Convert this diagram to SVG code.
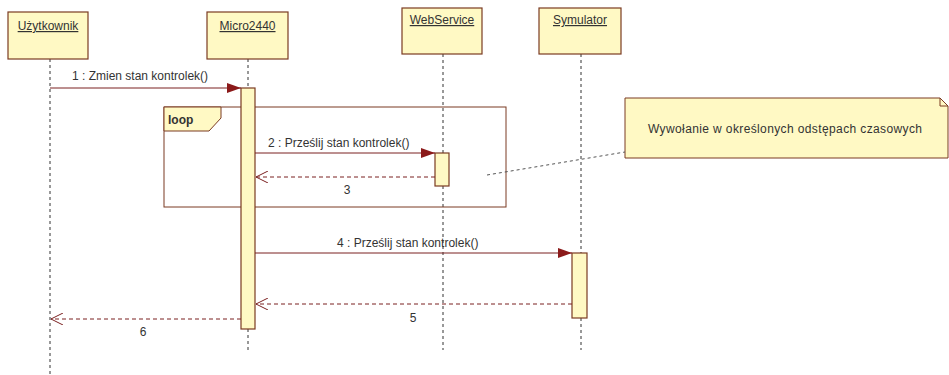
<svg xmlns="http://www.w3.org/2000/svg" width="949" height="375" viewBox="0 0 949 375">
<style>
.box{fill:#fff9c4;stroke:#7b3b22;stroke-width:1.2}
.life{stroke:#333;stroke-width:1;stroke-dasharray:3,3;fill:none}
.msg{stroke:#7b2020;stroke-width:1;fill:none}
.ret{stroke:#7b2020;stroke-width:1;fill:none;stroke-dasharray:4,3}
.t{font-family:"Liberation Sans",Arial,sans-serif;font-size:12px;fill:#333}
.h{font-family:"Liberation Sans",Arial,sans-serif;font-size:12px;fill:#333;text-decoration:underline;text-anchor:middle}
.frame{fill:none;stroke:#7b3b22;stroke-width:1}
</style>
<defs>
<marker id="fill" markerWidth="14" markerHeight="10" refX="14" refY="5" orient="auto" markerUnits="userSpaceOnUse">
<path d="M0,0 L14,5 L0,10 Z" fill="#8b1a1a"/>
</marker>
<marker id="open" markerWidth="14" markerHeight="12" refX="13" refY="6" orient="auto" markerUnits="userSpaceOnUse">
<path d="M1,0 L13,6 L1,12" fill="none" stroke="#7b2020" stroke-width="1"/>
</marker>
</defs>
<rect width="949" height="375" fill="#fff"/>

<g id="lifelines">
<line class="life" x1="50" y1="59" x2="50" y2="375"/>
<line class="life" x1="248" y1="59" x2="248" y2="353"/>
<line class="life" x1="443" y1="54" x2="443" y2="350"/>
<line class="life" x1="581" y1="54" x2="581" y2="350"/>
</g>

<g id="uzytkownik">
<rect class="box" x="8" y="12" width="80" height="47"/>
<text class="h" x="48" y="30">Użytkownik</text>
</g>
<g id="micro2440">
<rect class="box" x="207" y="12" width="81" height="47"/>
<text class="h" x="247.5" y="30">Micro2440</text>
</g>
<g id="webservice">
<rect class="box" x="402" y="8" width="80" height="46"/>
<text class="h" x="442" y="24">WebService</text>
</g>
<g id="symulator">
<rect class="box" x="539" y="8" width="82" height="46"/>
<text class="h" x="580" y="24">Symulator</text>
</g>

<g id="loop">
<rect class="frame" x="164" y="107" width="342" height="100"/>
<path d="M164,107 H221 V118 L209,131 H164 Z" fill="#fff9c4" stroke="#7b3b22" stroke-width="1"/>
<text x="168" y="124" style="font-family:'Liberation Sans',Arial,sans-serif;font-size:12px;font-weight:bold;fill:#333">loop</text>
</g>

<g id="activations">
<rect class="box" x="241" y="88" width="14" height="241"/>
<rect class="box" x="435" y="153" width="14" height="33"/>
<rect class="box" x="572" y="253" width="15" height="65"/>
</g>

<g id="note">
<path d="M625,98 H940 L948,106 V158 H625 Z" fill="#fff9c4" stroke="#7b3b22" stroke-width="1"/>
<path d="M940,98 V106 H948" fill="none" stroke="#7b3b22" stroke-width="1"/>
<text class="t" x="648" y="133" textLength="274" lengthAdjust="spacing">Wywołanie w określonych odstępach czasowych</text>
</g>

<g id="connectors">
<line class="msg" x1="50" y1="88" x2="241" y2="88" marker-end="url(#fill)"/>
<text class="t" x="72" y="80">1 : Zmien stan kontrolek()</text>

<line class="msg" x1="255" y1="153" x2="435" y2="153" marker-end="url(#fill)"/>
<text class="t" x="268" y="147">2 : Prześlij stan kontrolek()</text>

<line class="ret" x1="435" y1="177" x2="256" y2="177" marker-end="url(#open)"/>
<text class="t" x="347" y="194" text-anchor="middle">3</text>

<line class="msg" x1="255" y1="253" x2="572" y2="253" marker-end="url(#fill)"/>
<text class="t" x="337" y="247">4 : Prześlij stan kontrolek()</text>

<line class="ret" x1="572" y1="304" x2="256" y2="304" marker-end="url(#open)"/>
<text class="t" x="413" y="322" text-anchor="middle">5</text>

<line class="ret" x1="241" y1="319" x2="51" y2="319" marker-end="url(#open)"/>
<text class="t" x="143" y="336" text-anchor="middle">6</text>

<line x1="487" y1="175" x2="625" y2="152" stroke="#555" stroke-width="1" stroke-dasharray="3,3"/>
</g>
</svg>
